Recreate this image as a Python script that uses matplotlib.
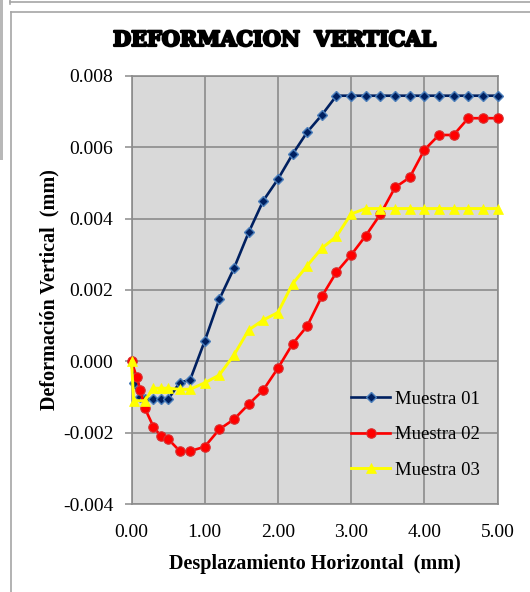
import matplotlib
matplotlib.use("Agg")
import matplotlib.pyplot as plt
from matplotlib.lines import Line2D
from matplotlib.patches import Rectangle
import matplotlib.patheffects as pe

# Horizontal displacement (mm) for each sample
x_m01 = [0.00, 0.03, 0.12, 0.18, 0.30, 0.40, 0.50, 0.66, 0.80, 1.00, 1.20, 1.40,
         1.60, 1.80, 2.00, 2.20, 2.40, 2.60, 2.80, 3.00, 3.20, 3.40, 3.60, 3.80,
         4.00, 4.20, 4.40, 4.60, 4.80, 5.00]
x_m02 = [0.00, 0.07, 0.12, 0.18, 0.30, 0.40, 0.50, 0.66, 0.80, 1.00, 1.20, 1.40,
         1.60, 1.80, 2.00, 2.20, 2.40, 2.60, 2.80, 3.00, 3.20, 3.40, 3.60, 3.80,
         4.00, 4.20, 4.40, 4.60, 4.80, 5.00]
x_m03 = [0.00, 0.03, 0.18, 0.30, 0.40, 0.50, 0.66, 0.80, 1.00, 1.20, 1.40,
         1.60, 1.80, 2.00, 2.20, 2.40, 2.60, 2.80, 3.00, 3.20, 3.40, 3.60, 3.80,
         4.00, 4.20, 4.40, 4.60, 4.80, 5.00]

# Vertical deformation (mm)
y_m01 = [0.0, -0.00059, -0.00100, -0.00106, -0.00106, -0.00106, -0.00106, -0.00059,
         -0.00052, 0.00057, 0.00174, 0.00261, 0.00361, 0.00450, 0.00510, 0.00580,
         0.00642, 0.00690, 0.00744, 0.00744, 0.00744, 0.00744, 0.00744, 0.00744,
         0.00744, 0.00744, 0.00744, 0.00744, 0.00744, 0.00744]
y_m02 = [0.0, -0.00043, -0.00080, -0.00130, -0.00183, -0.00209, -0.00217, -0.00251,
         -0.00251, -0.00239, -0.00190, -0.00162, -0.00120, -0.00080, -0.00019, 0.00049,
         0.00099, 0.00182, 0.00250, 0.00298, 0.00352, 0.00412, 0.00487, 0.00515,
         0.00592, 0.00634, 0.00634, 0.00681, 0.00681, 0.00681]
y_m03 = [0.0, -0.00110, -0.00110, -0.00075, -0.00075, -0.00075, -0.00078, -0.00078,
         -0.00060, -0.00038, 0.00018, 0.00088, 0.00116, 0.00137, 0.00217, 0.00268,
         0.00317, 0.00350, 0.00413, 0.00428, 0.00428, 0.00428, 0.00428, 0.00428,
         0.00428, 0.00428, 0.00428, 0.00428, 0.00428]

labels = ["Muestra 01", "Muestra 02", "Muestra 03"]
x_ticks = [0, 1, 2, 3, 4, 5]
x_tick_labels = ["0.00", "1.00", "2.00", "3.00", "4.00", "5.00"]
y_ticks = [-0.004, -0.002, 0.0, 0.002, 0.004, 0.006, 0.008]
y_tick_labels = ["-0.004", "-0.002", "0.000", "0.002", "0.004", "0.006", "0.008"]

W, H = 530, 592
fig = plt.figure(figsize=(W / 100, H / 100), dpi=100)
fig.patch.set_facecolor("white")

serif = ["Liberation Serif", "DejaVu Serif"]

# chart frame lines
frame_col = "#a6a6a6"
fig.add_artist(Line2D([11 / W, 11 / W], [0, 1 - 12 / H], transform=fig.transFigure,
                      color=frame_col, lw=1.2))
fig.add_artist(Line2D([11 / W, 1], [1 - 12 / H, 1 - 12 / H], transform=fig.transFigure,
                      color=frame_col, lw=1.2))
fig.add_artist(Line2D([10 / W, 1], [1 - 1.5 / H, 1 - 1.5 / H], transform=fig.transFigure,
                      color=frame_col, lw=1.2))
fig.add_artist(Line2D([10 / W, 10 / W], [1 - 4 / H, 1], transform=fig.transFigure,
                      color=frame_col, lw=1.2))
fig.add_artist(Rectangle((0, 1 - 160 / H), 3 / W, 160 / H, transform=fig.transFigure,
                         facecolor="#b8b8b8", edgecolor="none"))

left, right = 131.5 / W, 497.5 / W
bottom, top = 1 - 504.3 / H, 1 - 75.7 / H
ax = fig.add_axes([left, bottom, right - left, top - bottom])
ax.set_facecolor("#d9d9d9")

ax.plot(x_m01, y_m01, color="#002060", lw=1.9, marker="D", ms=5.6,
        mfc="#002060", mec="#4a7ebb", mew=1.0, label=labels[0], zorder=3, clip_on=False)
ax.plot(x_m02, y_m02, color="#ff0000", lw=1.9, marker="o", ms=6.8,
        mfc="#ff0000", mec="#d83030", mew=0.8, label=labels[1], zorder=4, clip_on=False)
ax.plot(x_m03, y_m03, color="#ffff00", lw=2.1, marker="^", ms=7.0,
        mfc="#ffff00", mec="#ffff00", mew=0.5, label=labels[2], zorder=5, clip_on=False)

ax.set_xlim(0, 5)
ax.set_ylim(-0.004, 0.008)
ax.set_xticks(x_ticks)
ax.set_xticklabels(x_tick_labels, fontfamily=serif, fontsize=14)
ax.set_yticks(y_ticks)
ax.set_yticklabels(y_tick_labels, fontfamily=serif, fontsize=14)
ax.grid(True, color="#8c8c8c", lw=1.2, zorder=0)
ax.set_axisbelow(True)
for s in ax.spines.values():
    s.set_color("#8c8c8c")
    s.set_linewidth(1.2)
ax.tick_params(axis="y", length=5, width=1.1, color="#8c8c8c", pad=8)
ax.tick_params(axis="x", length=0, pad=14)

fig.text(0.519, 1 - 40 / H, "DEFORMACION  VERTICAL", ha="center", va="center",
         fontfamily=["DejaVu Serif"], fontweight="heavy", fontsize=15,
         path_effects=[pe.withStroke(linewidth=1.6, foreground="black")])
fig.text(49 / W, 1 - 290 / H, "Deformación Vertical  (mm)", rotation=90,
         ha="center", va="center", fontfamily=serif, fontweight="bold", fontsize=14.5)
fig.text(315 / W, 1 - 564 / H, "Desplazamiento Horizontal  (mm)", ha="center",
         va="center", fontfamily=serif, fontweight="bold", fontsize=14.5)

leg = ax.legend(loc="upper left", bbox_to_anchor=(351 / W, 1 - 390.5 / H),
                bbox_transform=fig.transFigure, frameon=False,
                prop={"family": serif, "size": 13.5}, handlelength=2.1,
                handletextpad=0.25, labelspacing=0.98, borderpad=0, borderaxespad=0)

fig.savefig("out.png", dpi=100, facecolor="white")
